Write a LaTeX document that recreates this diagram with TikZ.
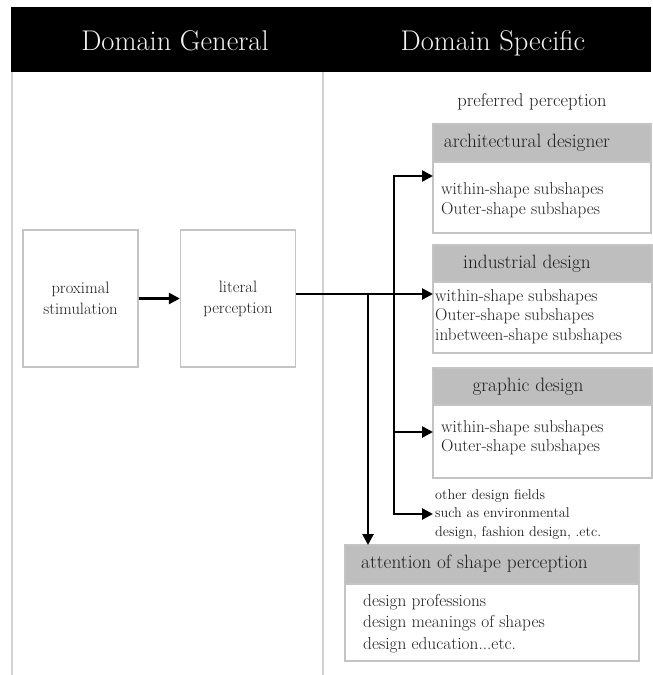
\documentclass[tikz,border=0pt]{standalone}
\usetikzlibrary{arrows.meta}
\definecolor{framegray}{HTML}{D2D2D2}
\definecolor{boxgray}{HTML}{C4C4C4}
\definecolor{hdrgray}{HTML}{BEBEBE}
\definecolor{inkgray}{HTML}{1E1E1E}
\definecolor{hdrwhite}{HTML}{F2F2F2}
\begin{document}
\begin{tikzpicture}[x=1pt,y=-1pt,
  frameline/.style={draw=framegray, line width=2pt},
  boxbody/.style={draw=boxgray, line width=1.3pt, fill=white},
  boxhead/.style={draw=boxgray, line width=1.3pt, fill=hdrgray},
  hdrtext/.style={text=hdrwhite, font=\fontsize{28.5}{34}\selectfont, inner sep=0pt},
  leftbox/.style={draw=boxgray, line width=1.3pt, minimum width=115pt, minimum height=137pt, align=center, text=inkgray, font=\fontsize{16.5}{21}\selectfont},
  headtxt/.style={text=inkgray, font=\fontsize{19.3}{23}\selectfont, inner sep=0pt},
  bodytxt/.style={text=inkgray, align=left, inner sep=0pt, anchor=north west},
  arr/.style={line width=2.6pt, -{Triangle[length=11pt,width=11pt]}},
  trunk/.style={line width=2.6pt}
]
\useasboundingbox (0,0) rectangle (653,675);
% header band
\fill[black] (11,7) rectangle (651,72);
\node[hdrtext, anchor=base] (dg) at (175,50) {Domain General};
\node[hdrtext, anchor=base] (ds) at (493,50) {Domain Specific};
% frame lines
\draw[frameline] (12,72) -- (12,675);
\draw[frameline] (323,72) -- (323,675);
% left boxes
\node[leftbox] (prox) at (80.5,298.5) {proximal\\stimulation};
\node[leftbox] (lit) at (238,298.5) {literal\\perception};
% preferred perception
\node[text=inkgray, font=\fontsize{18.5}{22}\selectfont, inner sep=0pt] (pref) at (532,102) {preferred perception};
% architectural designer
\draw[boxbody] (433,162) rectangle (651,233);
\draw[boxhead] (433,124) rectangle (651,162);
\node[headtxt] (archh) at (527,143) {architectural designer};
\node[bodytxt, font=\fontsize{17.2}{20}\selectfont] (archt) at (441,182) {within-shape subshapes\\Outer-shape subshapes};
% industrial design
\draw[boxbody] (433,282) rectangle (652,353);
\draw[boxhead] (433,245) rectangle (652,282);
\node[headtxt] (indh) at (527,264) {industrial design};
\node[bodytxt, font=\fontsize{17.2}{19.5}\selectfont] (indt) at (435,289) {within-shape subshapes\\Outer-shape subshapes\\inbetween-shape subshapes};
% graphic design
\draw[boxbody] (433,405) rectangle (652,478);
\draw[boxhead] (433,368) rectangle (652,405);
\node[headtxt] (grah) at (528,387) {graphic design};
\node[bodytxt, font=\fontsize{17.2}{19}\selectfont] (grat) at (441,420) {within-shape subshapes\\Outer-shape subshapes};
% other design fields
\node[bodytxt, font=\fontsize{14.2}{18.5}\selectfont] (oth) at (435,489) {other design fields\\such as environmental\\design, fashion design, .etc.};
% attention of shape perception
\draw[boxbody] (345,584) rectangle (639,661);
\draw[boxhead] (345,545) rectangle (639,584);
\node[headtxt, anchor=west] (atth) at (361,564) {attention of shape perception};
\node[bodytxt, font=\fontsize{17.3}{21.5}\selectfont] (attt) at (363,594) {design professions\\design meanings of shapes\\design education...etc.};
% connectors
\coordinate (inwest) at (433,294);
\coordinate (archin) at (433,176);
\coordinate (grain) at (433,432);
\coordinate (othin) at (433,514);
\coordinate (atttop) at (368,545);
\coordinate (ja) at (394,176);
\coordinate (jb) at (394,514);
\coordinate (jc) at (368,294);
\coordinate (jd) at (394,432);
\draw[arr] (prox.east) -- (lit.east -| lit.west);
\draw[arr] (lit.east |- inwest) -- (inwest);
\draw[trunk] (ja) -- (jb);
\draw[arr] ([xshift=-1.3pt]ja) -- (archin);
\draw[arr] (jd) -- (grain);
\draw[arr] ([xshift=-1.3pt]jb) -- (othin);
\draw[arr] (jc) -- (atttop);
\end{tikzpicture}
\end{document}
